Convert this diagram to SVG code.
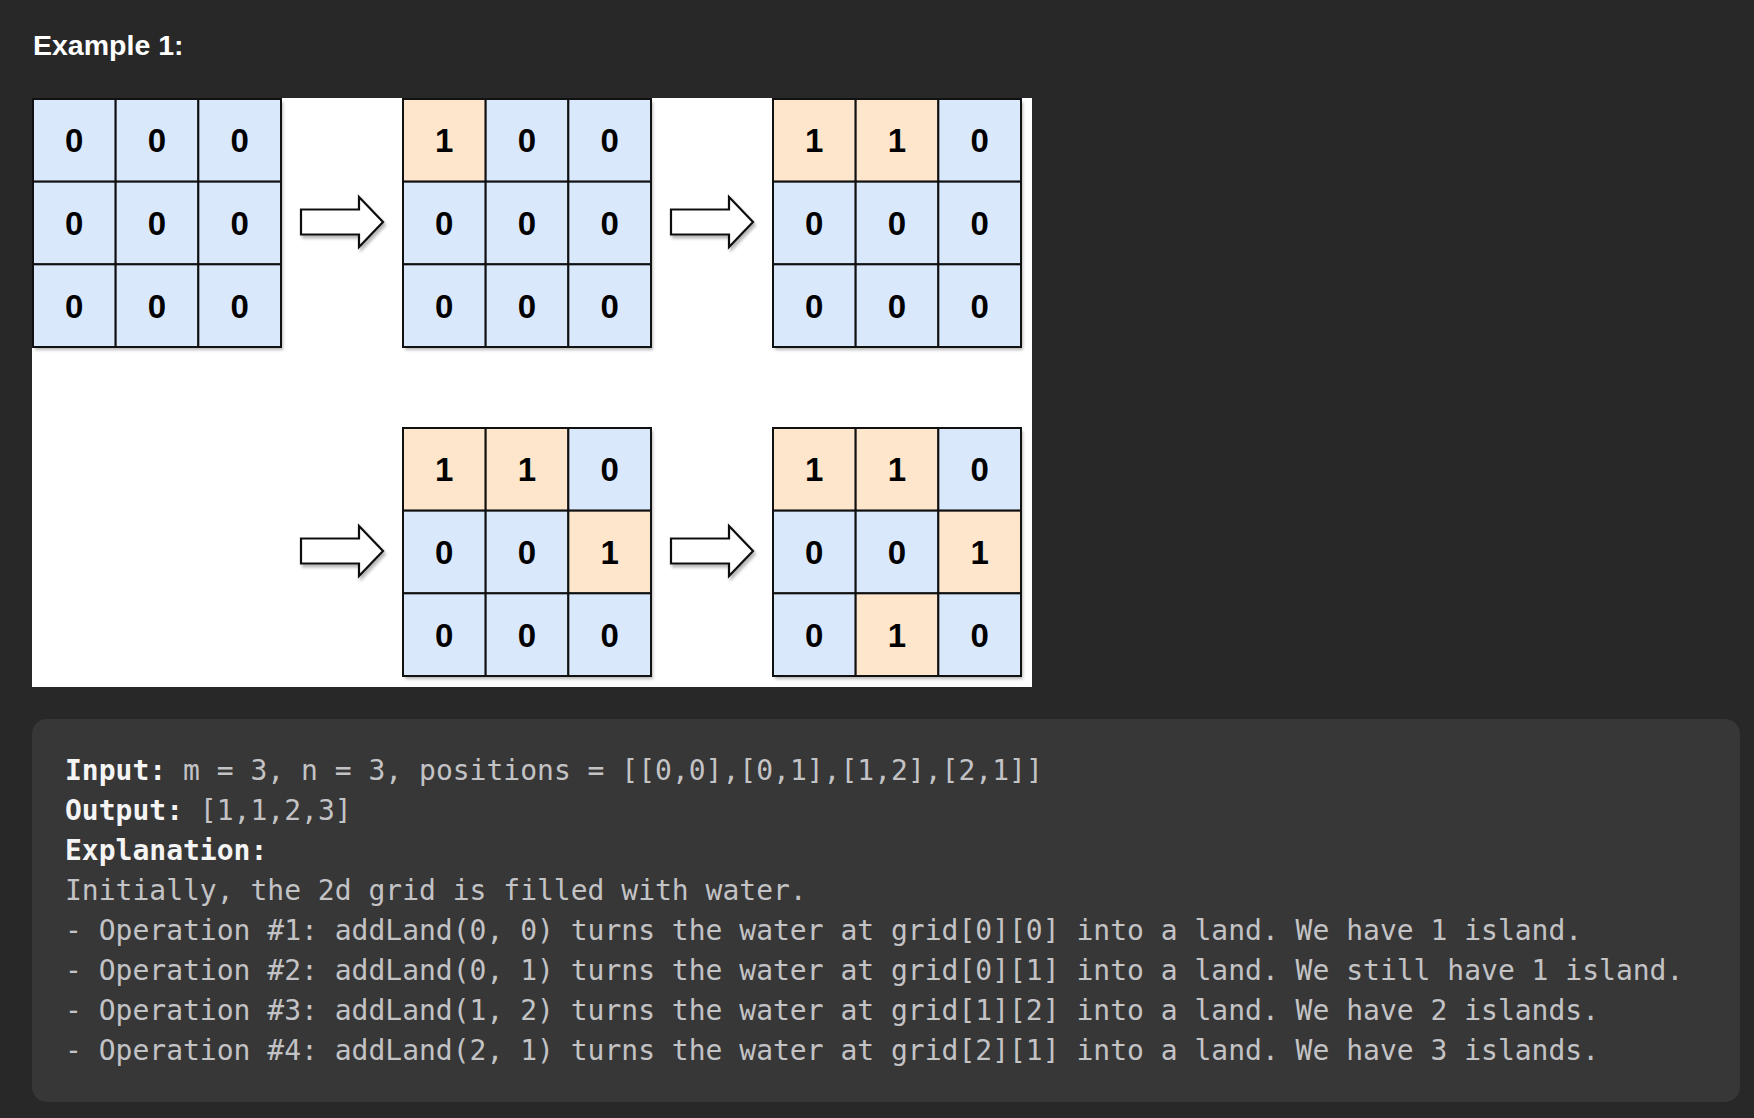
<svg xmlns="http://www.w3.org/2000/svg" width="1754" height="1118" viewBox="0 0 1754 1118">
  <defs>
    <filter id="sh" x="-10%" y="-10%" width="130%" height="130%">
      <feDropShadow dx="2" dy="3" stdDeviation="1.8" flood-color="#000" flood-opacity="0.28"/>
    </filter>
    <style>
      .title { font-family: "Liberation Sans", Arial, sans-serif; font-weight: bold; font-size: 28.5px; fill: #ffffff; }
      .w { fill: #dae8fc; stroke: #111; stroke-width: 2; }
      .l { fill: #fde6cc; stroke: #111; stroke-width: 2; }
      .d { font-family: "Liberation Sans", Arial, sans-serif; font-weight: bold; font-size: 33px; fill: #000; text-anchor: middle; }
      .arrow { fill: #ffffff; stroke: #111; stroke-width: 2.2; stroke-linejoin: miter; filter: url(#sh); }
      .code { font-family: "DejaVu Sans Mono", "Liberation Mono", monospace; font-size: 28px; fill: #c3c3c6; white-space: pre; }
      .b { font-weight: bold; fill: #f4f4f4; }
    </style>
    <path id="arr" d="M0,-12.5 H58 V-25 L82,0 L58,25 V12.5 H0 Z"/>
  </defs>

  <rect x="0" y="0" width="1754" height="1118" fill="#282828"/>
  <text class="title" x="33" y="55">Example 1:</text>

  <rect x="32" y="98" width="1000" height="589" fill="#ffffff"/>

  <g id="grid1" transform="translate(33,99)">
    <rect x="0" y="0" width="248" height="248" fill="#dae8fc" filter="url(#sh)"/>
    <rect class="w" x="0" y="0" width="82.67" height="82.67"/><rect class="w" x="82.67" y="0" width="82.67" height="82.67"/><rect class="w" x="165.33" y="0" width="82.67" height="82.67"/>
    <rect class="w" x="0" y="82.67" width="82.67" height="82.67"/><rect class="w" x="82.67" y="82.67" width="82.67" height="82.67"/><rect class="w" x="165.33" y="82.67" width="82.67" height="82.67"/>
    <rect class="w" x="0" y="165.33" width="82.67" height="82.67"/><rect class="w" x="82.67" y="165.33" width="82.67" height="82.67"/><rect class="w" x="165.33" y="165.33" width="82.67" height="82.67"/>
    <text class="d" x="41.3" y="53.2">0</text><text class="d" x="124" y="53.2">0</text><text class="d" x="206.7" y="53.2">0</text>
    <text class="d" x="41.3" y="135.9">0</text><text class="d" x="124" y="135.9">0</text><text class="d" x="206.7" y="135.9">0</text>
    <text class="d" x="41.3" y="218.5">0</text><text class="d" x="124" y="218.5">0</text><text class="d" x="206.7" y="218.5">0</text>
  </g>

  <g id="grid2" transform="translate(403,99)">
    <rect x="0" y="0" width="248" height="248" fill="#dae8fc" filter="url(#sh)"/>
    <rect class="l" x="0" y="0" width="82.67" height="82.67"/><rect class="w" x="82.67" y="0" width="82.67" height="82.67"/><rect class="w" x="165.33" y="0" width="82.67" height="82.67"/>
    <rect class="w" x="0" y="82.67" width="82.67" height="82.67"/><rect class="w" x="82.67" y="82.67" width="82.67" height="82.67"/><rect class="w" x="165.33" y="82.67" width="82.67" height="82.67"/>
    <rect class="w" x="0" y="165.33" width="82.67" height="82.67"/><rect class="w" x="82.67" y="165.33" width="82.67" height="82.67"/><rect class="w" x="165.33" y="165.33" width="82.67" height="82.67"/>
    <text class="d" x="41.3" y="53.2">1</text><text class="d" x="124" y="53.2">0</text><text class="d" x="206.7" y="53.2">0</text>
    <text class="d" x="41.3" y="135.9">0</text><text class="d" x="124" y="135.9">0</text><text class="d" x="206.7" y="135.9">0</text>
    <text class="d" x="41.3" y="218.5">0</text><text class="d" x="124" y="218.5">0</text><text class="d" x="206.7" y="218.5">0</text>
  </g>

  <g id="grid3" transform="translate(773,99)">
    <rect x="0" y="0" width="248" height="248" fill="#dae8fc" filter="url(#sh)"/>
    <rect class="l" x="0" y="0" width="82.67" height="82.67"/><rect class="l" x="82.67" y="0" width="82.67" height="82.67"/><rect class="w" x="165.33" y="0" width="82.67" height="82.67"/>
    <rect class="w" x="0" y="82.67" width="82.67" height="82.67"/><rect class="w" x="82.67" y="82.67" width="82.67" height="82.67"/><rect class="w" x="165.33" y="82.67" width="82.67" height="82.67"/>
    <rect class="w" x="0" y="165.33" width="82.67" height="82.67"/><rect class="w" x="82.67" y="165.33" width="82.67" height="82.67"/><rect class="w" x="165.33" y="165.33" width="82.67" height="82.67"/>
    <text class="d" x="41.3" y="53.2">1</text><text class="d" x="124" y="53.2">1</text><text class="d" x="206.7" y="53.2">0</text>
    <text class="d" x="41.3" y="135.9">0</text><text class="d" x="124" y="135.9">0</text><text class="d" x="206.7" y="135.9">0</text>
    <text class="d" x="41.3" y="218.5">0</text><text class="d" x="124" y="218.5">0</text><text class="d" x="206.7" y="218.5">0</text>
  </g>

  <g id="grid4" transform="translate(403,428)">
    <rect x="0" y="0" width="248" height="248" fill="#dae8fc" filter="url(#sh)"/>
    <rect class="l" x="0" y="0" width="82.67" height="82.67"/><rect class="l" x="82.67" y="0" width="82.67" height="82.67"/><rect class="w" x="165.33" y="0" width="82.67" height="82.67"/>
    <rect class="w" x="0" y="82.67" width="82.67" height="82.67"/><rect class="w" x="82.67" y="82.67" width="82.67" height="82.67"/><rect class="l" x="165.33" y="82.67" width="82.67" height="82.67"/>
    <rect class="w" x="0" y="165.33" width="82.67" height="82.67"/><rect class="w" x="82.67" y="165.33" width="82.67" height="82.67"/><rect class="w" x="165.33" y="165.33" width="82.67" height="82.67"/>
    <text class="d" x="41.3" y="53.2">1</text><text class="d" x="124" y="53.2">1</text><text class="d" x="206.7" y="53.2">0</text>
    <text class="d" x="41.3" y="135.9">0</text><text class="d" x="124" y="135.9">0</text><text class="d" x="206.7" y="135.9">1</text>
    <text class="d" x="41.3" y="218.5">0</text><text class="d" x="124" y="218.5">0</text><text class="d" x="206.7" y="218.5">0</text>
  </g>

  <g id="grid5" transform="translate(773,428)">
    <rect x="0" y="0" width="248" height="248" fill="#dae8fc" filter="url(#sh)"/>
    <rect class="l" x="0" y="0" width="82.67" height="82.67"/><rect class="l" x="82.67" y="0" width="82.67" height="82.67"/><rect class="w" x="165.33" y="0" width="82.67" height="82.67"/>
    <rect class="w" x="0" y="82.67" width="82.67" height="82.67"/><rect class="w" x="82.67" y="82.67" width="82.67" height="82.67"/><rect class="l" x="165.33" y="82.67" width="82.67" height="82.67"/>
    <rect class="w" x="0" y="165.33" width="82.67" height="82.67"/><rect class="l" x="82.67" y="165.33" width="82.67" height="82.67"/><rect class="w" x="165.33" y="165.33" width="82.67" height="82.67"/>
    <text class="d" x="41.3" y="53.2">1</text><text class="d" x="124" y="53.2">1</text><text class="d" x="206.7" y="53.2">0</text>
    <text class="d" x="41.3" y="135.9">0</text><text class="d" x="124" y="135.9">0</text><text class="d" x="206.7" y="135.9">1</text>
    <text class="d" x="41.3" y="218.5">0</text><text class="d" x="124" y="218.5">1</text><text class="d" x="206.7" y="218.5">0</text>
  </g>

  <g id="connectors">
    <use href="#arr" class="arrow" x="301" y="222"/>
    <use href="#arr" class="arrow" x="671" y="222"/>
    <use href="#arr" class="arrow" x="301" y="551"/>
    <use href="#arr" class="arrow" x="671" y="551"/>
  </g>

  <g id="example-text">
    <rect x="32" y="719" width="1708" height="383" rx="15" ry="15" fill="#373737"/>
    <text class="code" x="65" y="780"><tspan class="b">Input:</tspan> m = 3, n = 3, positions = [[0,0],[0,1],[1,2],[2,1]]</text>
    <text class="code" x="65" y="820"><tspan class="b">Output:</tspan> [1,1,2,3]</text>
    <text class="code" x="65" y="860"><tspan class="b">Explanation:</tspan></text>
    <text class="code" x="65" y="900">Initially, the 2d grid is filled with water.</text>
    <text class="code" x="65" y="940">- Operation #1: addLand(0, 0) turns the water at grid[0][0] into a land. We have 1 island.</text>
    <text class="code" x="65" y="980">- Operation #2: addLand(0, 1) turns the water at grid[0][1] into a land. We still have 1 island.</text>
    <text class="code" x="65" y="1020">- Operation #3: addLand(1, 2) turns the water at grid[1][2] into a land. We have 2 islands.</text>
    <text class="code" x="65" y="1060">- Operation #4: addLand(2, 1) turns the water at grid[2][1] into a land. We have 3 islands.</text>
  </g>
</svg>
